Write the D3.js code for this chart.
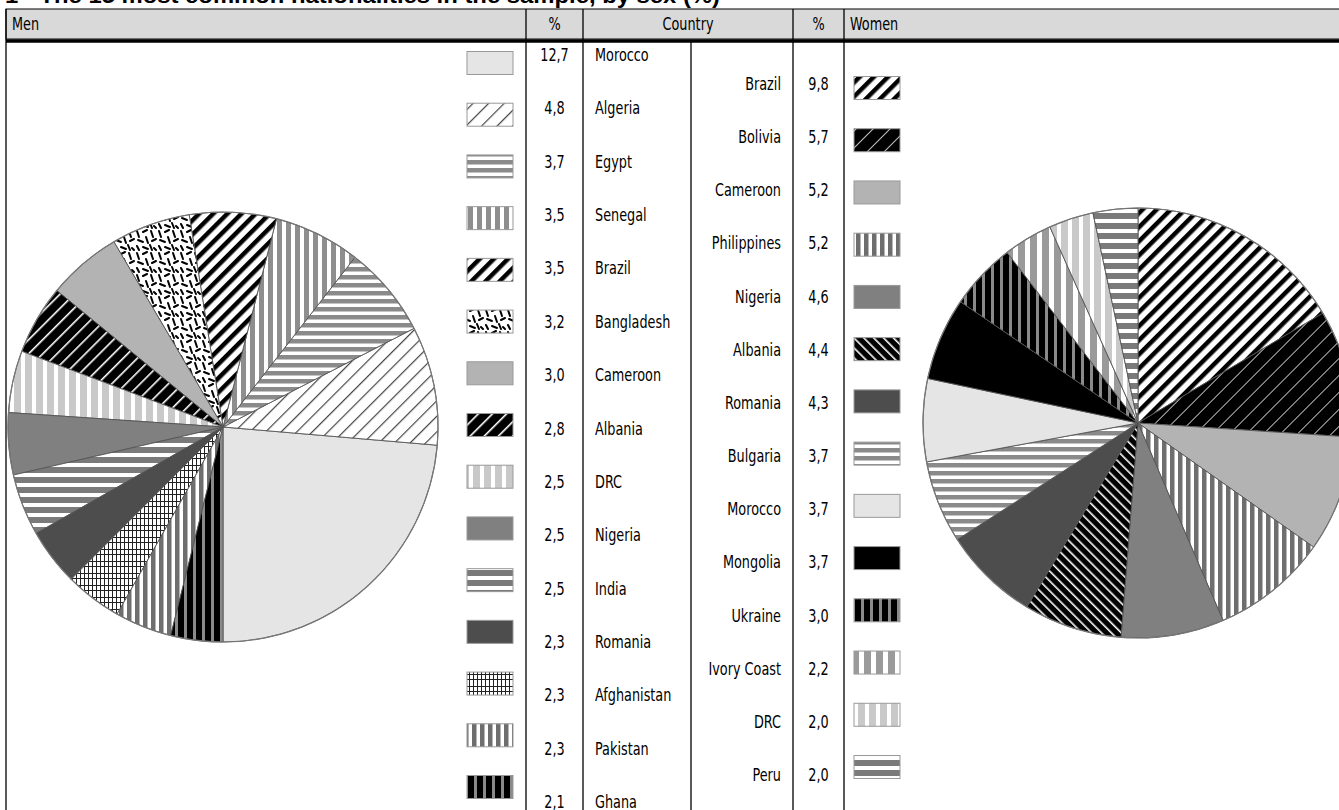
<!DOCTYPE html>
<html><head><meta charset="utf-8">
<script src="https://cdn.jsdelivr.net/npm/d3@7"></script>
<style>
html,body{margin:0;padding:0;background:#fff;}
svg{display:block;}
text{font-family:"Liberation Sans Narrow","DejaVu Sans Condensed","Roboto Condensed",sans-serif;}
</style></head>
<body><svg id="chart" width="1339" height="810"></svg>
<script>
// ---------- data ----------
const titleText = "1 - The 15 most common nationalities in the sample, by sex (%)";
const headers = ["Men", "%", "Country", "%", "Women"];
const menCountries = ["Morocco","Algeria","Egypt","Senegal","Brazil","Bangladesh","Cameroon","Albania","DRC","Nigeria","India","Romania","Afghanistan","Pakistan","Ghana"];
const menValues = [12.7,4.8,3.7,3.5,3.5,3.2,3.0,2.8,2.5,2.5,2.5,2.3,2.3,2.3,2.1];
const womenCountries = ["Brazil","Bolivia","Cameroon","Philippines","Nigeria","Albania","Romania","Bulgaria","Morocco","Mongolia","Ukraine","Ivory Coast","DRC","Peru"];
const womenValues = [9.8,5.7,5.2,5.2,4.6,4.4,4.3,3.7,3.7,3.7,3.0,2.2,2.0,2.0];

// ---------- styles ----------
const menFills = ["#e5e5e5","url(#diagThin)","url(#hStripe)","url(#vStripe)","url(#diagBold)","url(#confetti)","#b3b3b3","url(#diagBlackWhite)","url(#vStripeLight)","#808080","url(#hStripeWide)","#4d4d4d","url(#grid)","url(#vStripeMid)","url(#vStripeBlack)"];
const womenFills = ["url(#diagBold)","url(#diagBlackThin)","#b3b3b3","url(#vStripeMid)","#808080","url(#diagBlackRev)","#4d4d4d","url(#hStripe)","#e5e5e5","#000000","url(#vStripeBlack)","url(#vStripeWide)","url(#vStripeLight)","url(#hStripeWide)"];

const svg = d3.select("#chart");
const defs = svg.append("defs");

function stripePattern(id, period, bg, fg, fgW, angle, vertical) {
  const p = defs.append("pattern").attr("id", id).attr("patternUnits","userSpaceOnUse")
    .attr("width", period).attr("height", period);
  if (angle) p.attr("patternTransform", `rotate(${angle})`);
  p.append("rect").attr("width", period).attr("height", period).attr("fill", bg);
  if (vertical) p.append("rect").attr("x",0).attr("y",0).attr("width", fgW).attr("height", period).attr("fill", fg);
  else p.append("rect").attr("x",0).attr("y",0).attr("width", period).attr("height", fgW).attr("fill", fg);
}
stripePattern("diagThin", 11, "#fff", "#444", 1.2, 45, true);
stripePattern("diagBold", 10, "#fff", "#000", 4.5, 45, true);
stripePattern("diagBlackWhite", 10, "#000", "#fff", 1.6, 45, true);
stripePattern("diagBlackThin", 12, "#000", "#bbb", 1, 45, true);
stripePattern("diagBlackRev", 7, "#000", "#fff", 1.6, -45, true);
stripePattern("hStripe", 8, "#fff", "#8a8a8a", 4.5, 0, false);
stripePattern("hStripeWide", 10, "#fff", "#7a7a7a", 6, 0, false);
stripePattern("vStripe", 9, "#fff", "#8e8e8e", 5, 0, true);
stripePattern("vStripeMid", 8, "#fff", "#6e6e6e", 4.5, 0, true);
stripePattern("vStripeLight", 11, "#fff", "#c9c9c9", 7, 0, true);
stripePattern("vStripeWide", 12, "#fff", "#9a9a9a", 7, 0, true);
stripePattern("vStripeBlack", 9, "#8a8a8a", "#000", 6, 0, true);

// confetti tile (hand placed dashes)
const conf = defs.append("pattern").attr("id","confetti").attr("patternUnits","userSpaceOnUse").attr("width",22).attr("height",22);
conf.append("rect").attr("width",22).attr("height",22).attr("fill","#fff");
[[2,2,4,8],[8,3,12,1],[16,2,18,8],[3,11,8,13],[11,8,13,14],[17,12,21,10],[2,17,4,21],[8,18,13,20],[15,16,17,21],[19,19,21,21]]
  .forEach(d => conf.append("line").attr("x1",d[0]).attr("y1",d[1]).attr("x2",d[2]).attr("y2",d[3])
    .attr("stroke","#000").attr("stroke-width",2).attr("stroke-linecap","round"));

// grid (plaid) tile
const grid = defs.append("pattern").attr("id","grid").attr("patternUnits","userSpaceOnUse").attr("width",12).attr("height",12);
grid.append("rect").attr("width",12).attr("height",12).attr("fill","#fff");
[1,5,9].forEach(x => grid.append("rect").attr("x",x).attr("y",0).attr("width",1).attr("height",12).attr("fill","#222"));
[2,7].forEach(y => grid.append("rect").attr("x",0).attr("y",y).attr("width",12).attr("height",1).attr("fill","#222"));

// ---------- title ----------
svg.append("text").attr("x",5).attr("y",3).attr("font-size",22).attr("font-weight","bold")
  .style("font-family","'Liberation Sans','DejaVu Sans',sans-serif")
  .attr("textLength",715).attr("lengthAdjust","spacingAndGlyphs")
  .text(titleText);

// ---------- table frame ----------
const colX = [6, 526, 583, 793, 844, 1345];
const headTop = 9, headBot = 39, H = 810;
svg.append("rect").attr("x",colX[0]).attr("y",headTop).attr("width",colX[5]-colX[0]).attr("height",headBot-headTop)
  .attr("fill","#d9d9d9").attr("stroke","#000").attr("stroke-width",1);
svg.append("line").attr("x1",colX[0]).attr("x2",1339).attr("y1",41).attr("y2",41).attr("stroke","#000").attr("stroke-width",3.5);
colX.slice(0,5).forEach(x => svg.append("line").attr("x1",x).attr("x2",x).attr("y1",headTop).attr("y2",H)
  .attr("stroke","#000").attr("stroke-width",1.3));
svg.append("line").attr("x1",691).attr("x2",691).attr("y1",41).attr("y2",H).attr("stroke","#000").attr("stroke-width",1.3);

const SX = 0.84; // condensed look
const place = (x, y) => `translate(${x},${y}) scale(${SX},1)`;

const headPos = [{x:12,a:"start"},{x:554.5,a:"middle"},{x:688,a:"middle"},{x:818.5,a:"middle"},{x:850,a:"start"}];
headers.forEach((h,i) => svg.append("text").attr("transform", place(headPos[i].x, 30)).attr("text-anchor",headPos[i].a)
  .attr("font-size",17).attr("fill","#000").text(h));

// ---------- scales ----------
const fmt = v => d3.format(".1f")(v).replace(".", ",");
const yMenLabel = d3.scaleLinear().domain([0, menValues.length-1]).range([55, 802]);
const yMenSw = d3.scaleLinear().domain([0, menValues.length-1]).range([63, 787]);
const yWomLabel = d3.scaleLinear().domain([0, womenValues.length-1]).range([84, 775]);
const yWomSw = d3.scaleLinear().domain([0, womenValues.length-1]).range([88, 767]);
const swW = 46, swH = 23;

// men legend
const menG = svg.append("g");
menG.selectAll("rect.sw").data(menValues).join("rect").attr("class","sw")
  .attr("x",467).attr("y",(d,i)=>yMenSw(i)-swH/2).attr("width",swW).attr("height",swH)
  .attr("fill",(d,i)=>menFills[i]).attr("stroke","#999").attr("stroke-width",1);
menG.selectAll("text.v").data(menValues).join("text").attr("class","v")
  .attr("transform",(d,i)=>place(554.5, yMenLabel(i)+6)).attr("text-anchor","middle").attr("font-size",17).text(d=>fmt(d));
menG.selectAll("text.c").data(menCountries).join("text").attr("class","c")
  .attr("transform",(d,i)=>place(595, yMenLabel(i)+6)).attr("font-size",17).text(d=>d);

// women legend
const womG = svg.append("g");
womG.selectAll("rect.sw").data(womenValues).join("rect").attr("class","sw")
  .attr("x",854).attr("y",(d,i)=>yWomSw(i)-swH/2).attr("width",swW).attr("height",swH)
  .attr("fill",(d,i)=>womenFills[i]).attr("stroke","#999").attr("stroke-width",1);
womG.selectAll("text.v").data(womenValues).join("text").attr("class","v")
  .attr("transform",(d,i)=>place(818.5, yWomLabel(i)+6)).attr("text-anchor","middle").attr("font-size",17).text(d=>fmt(d));
womG.selectAll("text.c").data(womenCountries).join("text").attr("class","c")
  .attr("transform",(d,i)=>place(781, yWomLabel(i)+6)).attr("text-anchor","end").attr("font-size",17).text(d=>d);

// ---------- pies ----------
const R = 215;
const arc = d3.arc().innerRadius(0).outerRadius(R);

function drawPie(values, fills, cx, cy, start, end) {
  const pie = d3.pie().sort(null).value(d=>d).startAngle(start).endAngle(end);
  const g = svg.append("g").attr("transform",`translate(${cx},${cy})`);
  g.selectAll("path").data(pie(values)).join("path")
    .attr("d", arc).attr("fill",(d,i)=>fills[i]).attr("stroke","#555").attr("stroke-width",0.9);
  g.append("circle").attr("r",R).attr("fill","none").attr("stroke","#777").attr("stroke-width",1.2);
}
drawPie(menValues, menFills, 223, 427, Math.PI, -Math.PI);
drawPie(womenValues, womenFills, 1138, 423, 0, 2*Math.PI);
</script>
</body></html>
